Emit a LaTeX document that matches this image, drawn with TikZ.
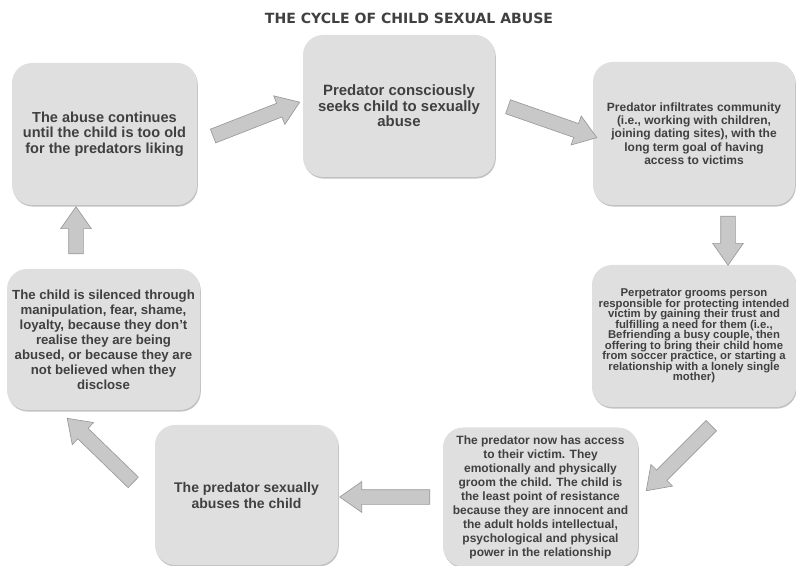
\documentclass[tikz,border=0pt]{standalone}
\usepackage{fontspec}
\setmainfont{Liberation Sans}
\newfontfamily\titlefont{DejaVu Sans}
\usetikzlibrary{shapes.arrows,shadows}

\definecolor{boxgray}{HTML}{DFDFDF}
\definecolor{arrowgray}{HTML}{C8C8C8}
\definecolor{edgegray}{HTML}{9A9A9A}
\definecolor{textgray}{HTML}{404040}

\newcommand{\tightlines}{\setlength{\lineskiplimit}{-4pt}\setlength{\lineskip}{0pt}}

\begin{document}
\begin{tikzpicture}[x=0.75pt, y=-0.75pt,
	stage/.style={rectangle, rounded corners=15pt, fill=boxgray, text=textgray, align=center, inner sep=0pt,
		drop shadow={shadow xshift=0.6pt, shadow yshift=-1.2pt, fill=gray!80, opacity=0.6}},
	flow/.style={single arrow, fill=arrowgray, draw=edgegray, line width=0.5pt, inner sep=5.25pt,
		single arrow head extend=6pt, single arrow tip angle=70, sloped, allow upside down}]

	\useasboundingbox (0,0) rectangle (796,566);

	% Title
	\node[font=\titlefont\bfseries\fontsize{10.55}{12}\selectfont, text=textgray] (title) at (409,18) {THE CYCLE OF CHILD SEXUAL ABUSE};

	% Boxes
	\node[stage, minimum width=138.75pt, minimum height=106.5pt, font=\bfseries\fontsize{10.9}{11.6}\selectfont] (continues) at (104.5,134)
		{The abuse continues\\until the child is too old\\for the predators liking};
	\node[stage, minimum width=144pt, minimum height=106.5pt, font=\bfseries\fontsize{11.2}{11.6}\selectfont] (seeks) at (399,106)
		{Predator consciously\\seeks child to sexually\\abuse};
	\node[stage, minimum width=151.5pt, minimum height=107.25pt, font=\bfseries\fontsize{9}{10}\selectfont] (infiltrates) at (694,133.5)
		{Predator infiltrates community\\(i.e., working with children,\\joining dating sites), with the\\long term goal of having\\access to victims};
	\node[stage, minimum width=153pt, minimum height=106.5pt, font=\bfseries\fontsize{8.5}{7.9}\selectfont\tightlines] (grooms) at (694,336)
		{Perpetrator grooms person\\responsible for protecting intended\\victim by gaining their trust and\\fulfilling a need for them (i.e.,\\Befriending a busy couple, then\\offering to bring their child home\\from soccer practice, or starting a\\relationship with a lonely single\\mother)};
	\node[stage, minimum width=146.25pt, minimum height=104.25pt, font=\bfseries\fontsize{9}{10.5}\selectfont] (access) at (540.5,497)
		{The predator now has access\\to their victim. They\\emotionally and physically\\groom the child. The child is\\the least point of resistance\\because they are innocent and\\the adult holds intellectual,\\psychological and physical\\power in the relationship};
	\node[stage, minimum width=137.25pt, minimum height=105pt, font=\bfseries\fontsize{10.5}{12}\selectfont] (abuses) at (246.5,495)
		{The predator sexually\\abuses the child};
	\node[stage, minimum width=144.75pt, minimum height=105.75pt, font=\bfseries\fontsize{9.9}{11.25}\selectfont] (silenced) at (103.5,339.5)
		{The child is silenced through\\manipulation, fear, shame,\\loyalty, because they don't\\realise they are being\\abused, or because they are\\not believed when they\\disclose};

	% Arrow ends
	\coordinate (a1s) at (208,138); \coordinate (a1e) at (295,104);
	\coordinate (a2s) at (503,105); \coordinate (a2e) at (592,136);
	\coordinate (a3s) at (728,211); \coordinate (a3e) at (728,260);
	\coordinate (a4s) at (715,422); \coordinate (a4e) at (650,487);
	\coordinate (a5s) at (435,497); \coordinate (a5e) at (345,497);
	\coordinate (a6s) at (137,486); \coordinate (a6e) at (71,422);
	\coordinate (a7s) at (76,259);  \coordinate (a7e) at (76,212);

	% Arrows
	\path (a1s) -- (a1e) node[midway, flow, minimum height=69.75pt] (arr1) {};
	\path (a2s) -- (a2e) node[midway, flow, minimum height=70.5pt] (arr2) {};
	\path (a3s) -- (a3e) node[midway, flow, minimum height=36.75pt] (arr3) {};
	\path (a4s) -- (a4e) node[midway, flow, minimum height=69pt] (arr4) {};
	\path (a5s) -- (a5e) node[midway, flow, minimum height=67.5pt] (arr5) {};
	\path (a6s) -- (a6e) node[midway, flow, minimum height=69pt] (arr6) {};
	\path (a7s) -- (a7e) node[midway, flow, minimum height=35.25pt] (arr7) {};
\end{tikzpicture}
\end{document}
